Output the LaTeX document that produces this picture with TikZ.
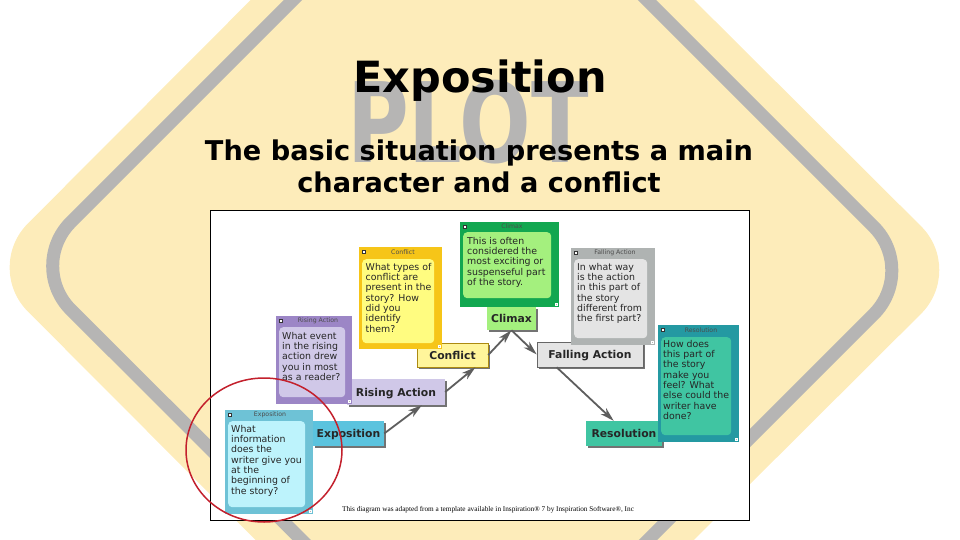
\documentclass[tikz,border=0pt]{standalone}
\usepackage{fontspec}
\usepackage{xcolor}
\usetikzlibrary{arrows.meta,shapes.geometric,shadows}
\setmainfont{DejaVu Sans}
\newfontfamily\capfont{Liberation Serif}
\definecolor{Sign}{HTML}{FDECBA}
\definecolor{Ring}{HTML}{B6B5B4}
\definecolor{Tip}{HTML}{5E5E5E}
\definecolor{ExpoDark}{HTML}{6EC2D6}
\definecolor{ExpoSoft}{HTML}{BDF3FC}
\definecolor{ExpoBox}{HTML}{5BC3DE}
\definecolor{RiseDark}{HTML}{9C86C6}
\definecolor{RiseSoft}{HTML}{D0C8E8}
\definecolor{ConfDark}{HTML}{F6C518}
\definecolor{ConfSoft}{HTML}{FFFC80}
\definecolor{ConfBox}{HTML}{FFF59B}
\definecolor{ClimDark}{HTML}{12A750}
\definecolor{ClimSoft}{HTML}{A4F07E}
\definecolor{FallDark}{HTML}{AFB3B2}
\definecolor{FallSoft}{HTML}{E4E4E4}
\definecolor{ResoDark}{HTML}{2499A2}
\definecolor{ResoSoft}{HTML}{40C5A2}
\definecolor{Circle}{HTML}{C3202C}

\begin{document}
\begin{tikzpicture}[
  x=1pt,y=-1pt,
  note/.style={anchor=north west,inner sep=0pt},
  inner/.style={anchor=north west,rounded corners=4pt,inner sep=0pt},
  words/.style={anchor=north west,inner sep=0pt,align=left,font=\fontsize{9.4}{10.3}\selectfont,text=black!85},
  notetitle/.style={font=\fontsize{6.2}{7}\selectfont,text=black!70,inner sep=0pt},
  icon/.style={draw=black!80,fill=white,line width=0.5pt,minimum size=3pt,inner sep=0pt},
  grip/.style={draw=white,fill=black!30,line width=0.3pt,minimum size=2.5pt,inner sep=0pt},
  stage/.style={font=\fontsize{10.8}{12}\selectfont\bfseries,inner sep=0pt,text=black!85,text height=8pt,text depth=0pt,
    drop shadow={shadow xshift=2pt,shadow yshift=-2pt,fill=black!55,opacity=1}},
  arrow/.style={-{Stealth[length=14pt,width=8pt,inset=4pt]},line width=1.8pt,draw=Tip}
]
\useasboundingbox (0,0) rectangle (960,540);
\clip (0,0) rectangle (960,540);
% sign behind the slide
\fill[Sign,rounded corners=62pt] (-16,267.5) -- (471.5,-221.5) -- (965,270) -- (474,759) -- cycle;
\draw[Ring,line width=13pt,rounded corners=62pt] (27,266) -- (470,-177) -- (917.5,270.5) -- (475,713) -- cycle;
\node[inner sep=0pt,text=Ring,font=\fontsize{111}{111}\selectfont\bfseries,xscale=0.76] (plot) at (468,122) {PLOT};
\node[inner sep=0pt,font=\fontsize{43}{46}\selectfont\bfseries] (title) at (480,81) {Exposition};
\node[inner sep=0pt,align=center,font=\fontsize{27.2}{32}\selectfont\bfseries] (basic) at (479,166) {The basic situation presents a main\\character and a conflict};
% panel
\node[note,draw=black,fill=white,line width=0.6pt,minimum width=539pt,minimum height=310pt] (panel) at (210,210) {};
\node[inner sep=0pt,font=\capfont\fontsize{7.25}{8}\selectfont] (source) at (488,510) {This diagram was adapted from a template available in Inspiration® 7 by Inspiration Software®, Inc};
% stage boxes
\node[stage,fill=ExpoBox,minimum width=71pt,minimum height=25pt] (expobox) at (348.5,433.5) {Exposition};
\node[stage,fill=RiseSoft,minimum width=98pt,minimum height=26pt] (risebox) at (396,392) {Rising Action};
\node[stage,fill=ConfBox,draw=ConfDark!70!black,line width=0.4pt,minimum width=71pt,minimum height=24pt] (confbox) at (452.5,355) {Conflict};
\node[stage,fill=ClimSoft,minimum width=49pt,minimum height=23pt] (climbox) at (511.5,318.5) {Climax};
\node[stage,fill=FallSoft,draw=black!60,line width=0.6pt,minimum width=106pt,minimum height=25pt] (fallbox) at (590,354.5) {Falling Action};
\node[stage,fill=ResoSoft,minimum width=76pt,minimum height=25pt] (resobox) at (624,433.5) {Resolution};
% notes
\node[note,fill=ExpoDark,minimum width=88pt,minimum height=104pt] (exponote) at (225,410) {};
\node[inner,fill=ExpoSoft,minimum width=77pt,minimum height=86pt] (expoinner) at (228,421) {};
\node[words] (expotext) at (231,425) {What\\information\\does the\\writer give you\\at the\\beginning of\\the story?};
\node[notetitle] (expotitle) at (270,415) {Exposition};
\node[note,fill=RiseDark,minimum width=76pt,minimum height=88pt] (risenote) at (276,316) {};
\node[inner,fill=RiseSoft,minimum width=66pt,minimum height=70pt] (riseinner) at (279,327) {};
\node[words] (risetext) at (282,332) {What event\\in the rising\\action drew\\you in most\\as a reader?};
\node[notetitle] (risetitle) at (318,321) {Rising Action};
\node[note,fill=ConfDark,minimum width=83pt,minimum height=102pt] (confnote) at (359,247) {};
\node[inner,fill=ConfSoft,minimum width=72pt,minimum height=84pt] (confinner) at (362,259) {};
\node[words] (conftext) at (365.5,263) {What types of\\conflict are\\present in the\\story? How\\did you\\identify\\them?};
\node[notetitle] (conftitle) at (403,252) {Conflict};
\node[note,fill=ClimDark,minimum width=99pt,minimum height=85pt] (climnote) at (460,222) {};
\node[inner,fill=ClimSoft,minimum width=88pt,minimum height=66pt] (climinner) at (463,232) {};
\node[words] (climtext) at (467,237) {This is often\\considered the\\most exciting or\\suspenseful part\\of the story.};
\node[notetitle] (climtitle) at (512,226) {Climax};
\node[note,fill=FallDark,minimum width=84pt,minimum height=97pt] (fallnote) at (571,248) {};
\node[inner,fill=FallSoft,minimum width=73pt,minimum height=79pt] (fallinner) at (574,259) {};
\node[words] (falltext) at (577,263) {In what way\\is the action\\in this part of\\the story\\different from\\the first part?};
\node[notetitle] (falltitle) at (615,253) {Falling Action};
\node[note,fill=ResoDark,minimum width=81pt,minimum height=117pt] (resonote) at (658,325) {};
\node[inner,fill=ResoSoft,minimum width=70pt,minimum height=98pt] (resoinner) at (661,337) {};
\node[words] (resotext) at (663,340) {How does\\this part of\\the story\\make you\\feel? What\\else could the\\writer have\\done?};
\node[notetitle] (resotitle) at (701,330) {Resolution};
\foreach \n in {expo,rise,conf,clim,fall,reso}{
  \node[icon,anchor=north west,xshift=3pt,yshift=-3pt] (\n icon) at (\n note.north west) {};
  \node[grip,anchor=south east,xshift=-2pt,yshift=2pt] (\n grip) at (\n note.south east) {};
}
% connectors
\draw[arrow] (expobox.east) -- (risebox.-27);
\draw[arrow] (risebox.east) -- (confbox.-28);
\draw[arrow] (confbox.east) -- (climbox.south);
\draw[arrow] (climbox.south) -- (fallbox.west);
\draw[arrow] (fallbox.201) -- (resobox.129);
% highlight
\node[ellipse,draw=Circle,line width=1.5pt,minimum width=156pt,minimum height=144pt,inner sep=0pt] (ring) at (264,450) {};
\end{tikzpicture}
\end{document}
